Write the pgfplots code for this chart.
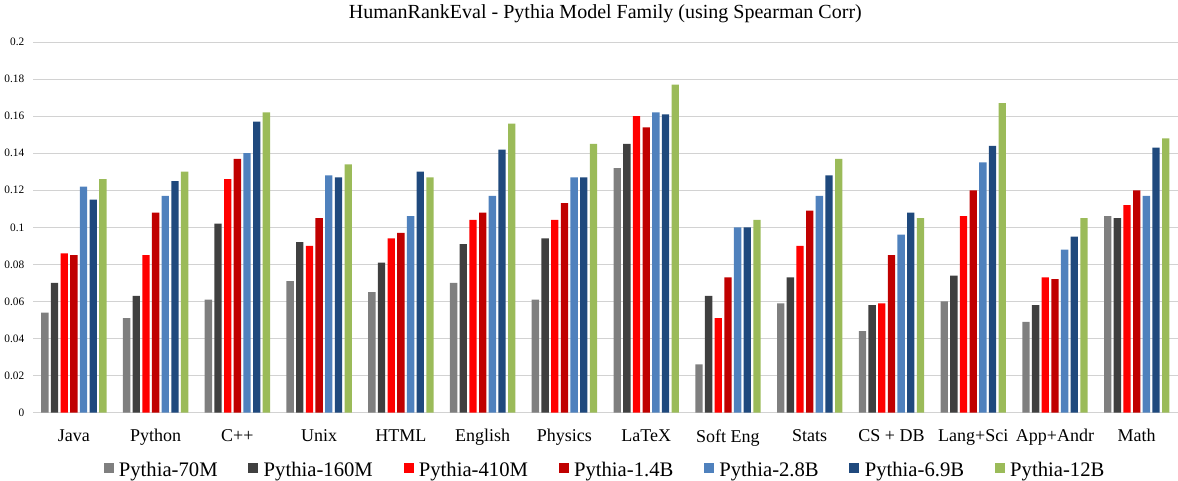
\documentclass[border=0pt]{standalone}
\usepackage{pgfplots}
\pgfplotsset{compat=1.18}
\usepackage{pgfplotstable}
\usepackage{fontspec}
\setmainfont{Liberation Serif}
\definecolor{cA}{HTML}{7F7F7F}
\definecolor{cB}{HTML}{404040}
\definecolor{cC}{HTML}{FF0000}
\definecolor{cD}{HTML}{C00000}
\definecolor{cE}{HTML}{4F81BD}
\definecolor{cF}{HTML}{1F497D}
\definecolor{cG}{HTML}{9BBB59}

\pgfplotstableread{
x  m70   m160  m410  b14   b28   b69   b12
0  0.054 0.070 0.086 0.085 0.122 0.115 0.126
1  0.051 0.063 0.085 0.108 0.117 0.125 0.130
2  0.061 0.102 0.126 0.137 0.140 0.157 0.162
3  0.071 0.092 0.090 0.105 0.128 0.127 0.134
4  0.065 0.081 0.094 0.097 0.106 0.130 0.127
5  0.070 0.091 0.104 0.108 0.117 0.142 0.156
6  0.061 0.094 0.104 0.113 0.127 0.127 0.145
7  0.132 0.145 0.160 0.154 0.162 0.161 0.177
8  0.026 0.063 0.051 0.073 0.100 0.100 0.104
9  0.059 0.073 0.090 0.109 0.117 0.128 0.137
10 0.044 0.058 0.059 0.085 0.096 0.108 0.105
11 0.060 0.074 0.106 0.120 0.135 0.144 0.167
12 0.049 0.058 0.073 0.072 0.088 0.095 0.105
13 0.106 0.105 0.112 0.120 0.117 0.143 0.148
}\scores

\begin{document}
\begin{tikzpicture}
\begin{axis}[
  scale only axis,
  width=858pt, height=277.8pt,
  ybar=1.75pt, bar width=5.5pt,
  xmin=-0.5, xmax=13.5,
  ymin=0, ymax=0.2,
  ytick={0,0.02,...,0.2},
  yticklabel style={/pgf/number format/fixed, /pgf/number format/precision=2,
                    font=\fontsize{8.5}{10}\selectfont, xshift=-3pt},
  /pgf/number format/assume math mode=true,
  xtick=data,
  xticklabels={Java,Python,C++,Unix,HTML,English,Physics,LaTeX,Soft Eng,Stats,CS + DB,Lang+Sci,App+Andr,Math},
  xticklabel style={font=\fontsize{13.5}{15}\selectfont, yshift=-9pt},
  major tick length=0pt,
  axis line style={draw=none},
  ymajorgrids, grid style={gray!35, line width=0.6pt},
  title={HumanRankEval - Pythia Model Family (using Spearman Corr)},
  title style={font=\fontsize{15}{18}\selectfont, yshift=5pt},
  legend style={at={(0.5,-0.125)}, anchor=north, draw=none, legend columns=7,
                font=\fontsize{15.5}{17}\selectfont, inner sep=0pt,
                /tikz/every odd column/.append style={column sep=2pt},
                /tikz/every even column/.append style={column sep=21pt}},
  legend image code/.code={\fill[#1] (0pt,-2.5pt) rectangle (7.5pt,5pt);},
  every axis plot/.append style={draw=none},
]
\addplot[fill=cA] table[x=x,y=m70]{\scores};
\addplot[fill=cB] table[x=x,y=m160]{\scores};
\addplot[fill=cC] table[x=x,y=m410]{\scores};
\addplot[fill=cD] table[x=x,y=b14]{\scores};
\addplot[fill=cE] table[x=x,y=b28]{\scores};
\addplot[fill=cF] table[x=x,y=b69]{\scores};
\addplot[fill=cG] table[x=x,y=b12]{\scores};
\legend{Pythia-70M,Pythia-160M,Pythia-410M,Pythia-1.4B,Pythia-2.8B,Pythia-6.9B,Pythia-12B}
\end{axis}
\end{tikzpicture}
\end{document}
